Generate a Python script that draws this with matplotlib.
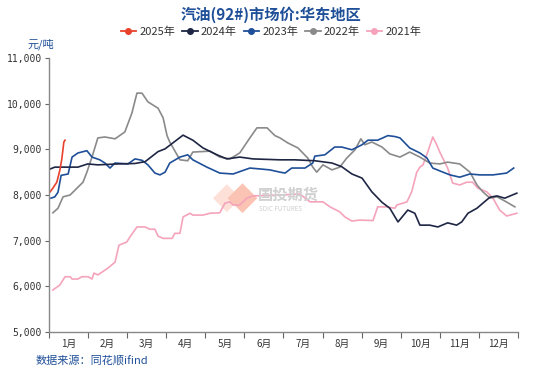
import matplotlib.pyplot as plt
import numpy as np
from matplotlib.lines import Line2D

plt.rcParams['font.family'] = ['Noto Sans CJK SC', 'DejaVu Sans']

# x positions are in months since 1 Jan (0..12)
x_2025 = [0.03, 0.1, 0.2, 0.28, 0.33, 0.38, 0.41]
y_2025 = [8070, 8150, 8280, 8550, 8800, 9160, 9200]

x_2024 = [0, 0.15, 0.74, 0.99, 1.25, 1.76, 2.2, 2.46, 2.79, 2.97, 3.43, 3.68, 3.94,
          4.30, 4.55, 4.88, 5.22, 5.91, 6.29, 6.80, 7.24, 7.49, 7.75, 8.01, 8.26,
          8.52, 8.72, 8.93, 9.18, 9.36, 9.49, 9.74, 9.95, 10.20, 10.43, 10.56,
          10.72, 10.95, 11.10, 11.28, 11.46, 11.66, 11.97]
y_2024 = [8560, 8610, 8610, 8680, 8660, 8680, 8690, 8730, 8950, 9010, 9310, 9200, 9030,
          8880, 8790, 8830, 8790, 8770, 8770, 8750, 8700, 8620, 8460, 8370, 8070,
          7840, 7710, 7410, 7670, 7600, 7340, 7340, 7300, 7390, 7340, 7410,
          7600, 7710, 7820, 7950, 7980, 7930, 8040]

x_2023 = [0.05, 0.15, 0.23, 0.31, 0.49, 0.59, 0.74, 0.97, 1.10, 1.30, 1.43, 1.56, 1.69,
          2.02, 2.20, 2.38, 2.53, 2.71, 2.84, 2.97, 3.09, 3.35, 3.55, 3.68, 4.04,
          4.37, 4.71, 5.14, 5.40, 5.65, 5.91, 6.04, 6.21, 6.55, 6.75, 6.80, 7.06,
          7.31, 7.49, 7.75, 8.01, 8.16, 8.41, 8.67, 8.85, 8.98, 9.23, 9.49, 9.67,
          9.82, 10.08, 10.26, 10.51, 10.77, 11.02, 11.36, 11.71, 11.89]
y_2023 = [7930, 7960, 8060, 8430, 8460, 8830, 8920, 8970, 8830, 8770, 8700, 8590, 8700,
          8680, 8790, 8760, 8660, 8480, 8440, 8500, 8700, 8830, 8880, 8770, 8610,
          8480, 8460, 8590, 8570, 8550, 8500, 8480, 8590, 8590, 8700, 8850, 8880,
          9050, 9050, 8990, 9100, 9200, 9200, 9300, 9280, 9250, 9030, 8920, 8810,
          8590, 8500, 8440, 8390, 8460, 8440, 8440, 8480, 8590]

x_2022 = [0.10, 0.23, 0.36, 0.54, 0.74, 0.87, 0.97, 1.10, 1.25, 1.43, 1.69, 1.94, 2.12,
          2.25, 2.38, 2.53, 2.79, 2.92, 3.02, 3.09, 3.35, 3.55, 3.68, 4.12, 4.37,
          4.63, 4.88, 5.14, 5.32, 5.58, 5.78, 5.91, 6.11, 6.37, 6.62, 6.75, 6.85,
          7.01, 7.24, 7.44, 7.62, 7.83, 7.98, 8.08, 8.26, 8.52, 8.72, 8.98, 9.23,
          9.49, 9.74, 10.00, 10.20, 10.51, 10.77, 10.95, 11.10, 11.28, 11.46, 11.66, 11.92]
y_2022 = [7610, 7710, 7960, 8000, 8170, 8280, 8500, 8830, 9250, 9270, 9230, 9380, 9790,
          10230, 10230, 10040, 9900, 9690, 9300, 9160, 8770, 8750, 8940, 8960, 8830,
          8790, 8920, 9250, 9470, 9470, 9300, 9250, 9140, 9030, 8810, 8610, 8500,
          8660, 8550, 8610, 8810, 8990, 9230, 9100, 9160, 9050, 8900, 8830, 8940,
          8830, 8700, 8680, 8720, 8680, 8500, 8220, 8070, 7930, 7960, 7870, 7740]

x_2021 = [0.10, 0.28, 0.41, 0.54, 0.59, 0.74, 0.84, 1.00, 1.10, 1.15, 1.25, 1.51, 1.69,
          1.79, 1.99, 2.07, 2.25, 2.46, 2.58, 2.71, 2.79, 2.92, 3.15, 3.22, 3.35,
          3.43, 3.61, 3.68, 3.94, 4.12, 4.37, 4.50, 4.63, 4.71, 4.88, 5.06, 5.22,
          5.91, 6.42, 6.68, 7.01, 7.19, 7.44, 7.57, 7.75, 7.95, 8.29, 8.41, 8.64,
          8.85, 8.90, 9.16, 9.28, 9.41, 9.49, 9.57, 9.69, 9.82, 9.92, 10.00, 10.20,
          10.33, 10.51, 10.69, 10.84, 10.97, 11.20, 11.36, 11.53, 11.71, 11.97]
y_2021 = [5920, 6030, 6210, 6210, 6160, 6160, 6210, 6210, 6160, 6290, 6250, 6400, 6530,
          6900, 6970, 7080, 7300, 7300, 7250, 7250, 7100, 7050, 7050, 7160, 7160,
          7520, 7600, 7560, 7560, 7600, 7610, 7820, 7850, 7780, 7780, 7930, 7980,
          8000, 8020, 7850, 7850, 7740, 7630, 7520, 7430, 7450, 7440, 7740, 7740,
          7710, 7780, 7850, 8070, 8500, 8610, 8660, 8940, 9270, 9100, 8940, 8590,
          8260, 8220, 8280, 8280, 8150, 8070, 7930, 7670, 7540, 7600]

years = ['2025年', '2024年', '2023年', '2022年', '2021年']
colors = ['#e8412c', '#1e2644', '#1f4f98', '#8a8a8a', '#f5a3bb']
series = [(x_2025, y_2025), (x_2024, y_2024), (x_2023, y_2023),
          (x_2022, y_2022), (x_2021, y_2021)]
month_labels = [f'{i}月' for i in range(1, 13)]

fig = plt.figure(figsize=(5.42, 3.78), dpi=100)
ax = fig.add_axes([0.0904, 0.1217, 0.8653, 0.7249])

# watermark (logo + name)
fig.text(0.476, 0.484, '国投期货', fontsize=11, color='#d0d0d0',
         ha='left', va='center', fontweight='bold', zorder=0)
fig.text(0.478, 0.447, 'SDIC FUTURES', fontsize=4.5, color='#cfcfcf',
         ha='left', va='center', zorder=0)
ax.scatter([4.55, 4.95], [7930, 7930], marker='D', s=[200, 230],
           color=['#fde0d8', '#fbc3b3'], zorder=0, linewidths=0)

# draw in reverse so 2025 is on top
for (xs, ys), c, lab in list(zip(series, colors, years))[::-1]:
    ax.plot(xs, ys, color=c, lw=1.2, label=lab)

ax.set_xlim(0, 12)
ax.set_ylim(5000, 11000)
ax.set_yticks(np.arange(5000, 11001, 1000))
ax.set_yticklabels([f'{v:,}' for v in range(5000, 11001, 1000)],
                   family='DejaVu Sans Mono', fontsize=7, color='#333333')
ax.set_xticks(np.arange(0, 13))
ax.set_xticklabels([])
ax.set_xticks(np.arange(0.5, 12), minor=True)
ax.set_xticklabels(month_labels, minor=True, fontsize=7, color='#333333')
ax.tick_params(axis='x', which='minor', length=0, pad=5)
ax.tick_params(axis='x', which='major', length=4, color='#666666', direction='out')
ax.tick_params(axis='y', length=3, color='#666666', direction='out', pad=2)

for s in ['top', 'right']:
    ax.spines[s].set_visible(False)
for s in ['left', 'bottom']:
    ax.spines[s].set_color('#888888')
    ax.spines[s].set_linewidth(1)

fig.text(0.5, 0.962, '汽油(92#)市场价:华东地区', ha='center', va='center',
         fontsize=11, fontweight='bold', color='#1f4f98')
handles = [Line2D([], [], color=c, lw=1.3, marker='o', markersize=4) for c in colors]
fig.legend(handles, years, loc='center', bbox_to_anchor=(0.5, 0.915), ncol=5,
           frameon=False, fontsize=8, handlelength=1.4, handletextpad=0.3,
           columnspacing=0.6, labelcolor='#333333')
fig.text(0.075, 0.883, '元/吨', ha='center', va='center', fontsize=8, color='#1f4f98')
fig.text(0.065, 0.047, '数据来源：同花顺ifind', ha='left', va='center',
         fontsize=8, color='#1f4f98')

fig.savefig('out.png', dpi=100)
